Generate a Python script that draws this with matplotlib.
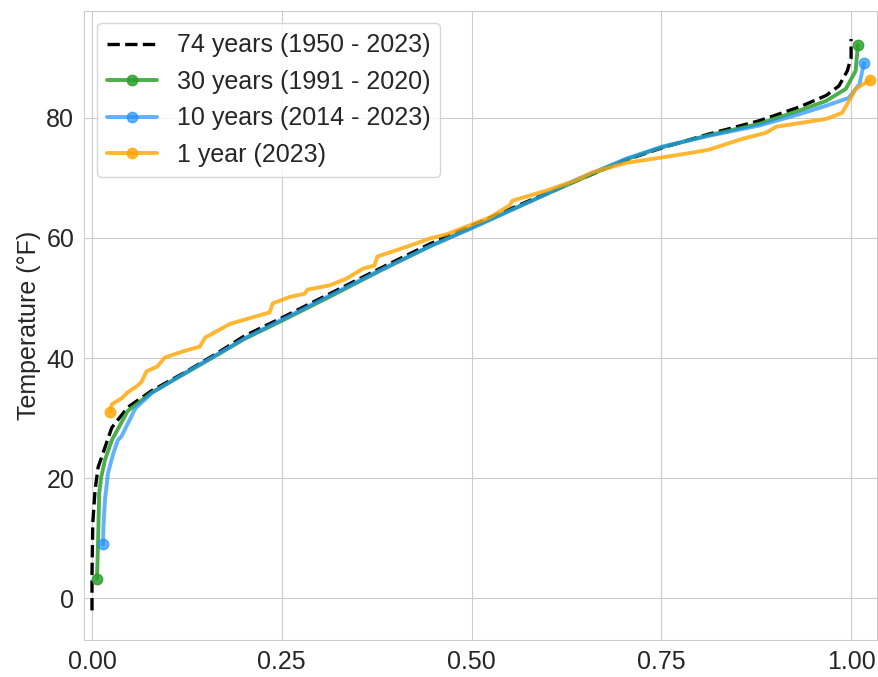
import matplotlib
matplotlib.use("Agg")
import matplotlib.pyplot as plt
import seaborn as sns

# fraction of days (x) vs. temperature (y)
x_74 = [0.0, 0.0, 0.001, 0.004, 0.008, 0.017, 0.026, 0.047, 0.079, 0.122, 0.166, 0.201,
        0.25, 0.313, 0.379, 0.445, 0.5, 0.576, 0.638, 0.704, 0.751, 0.813, 0.879, 0.932,
        0.967, 0.984, 0.995, 1.0, 1.0]
y_74 = [-2.0, 4.0, 12.5, 18.0, 21.8, 25.1, 28.4, 31.8, 34.6, 37.6, 40.9, 43.7,
        46.7, 50.7, 54.9, 59.0, 62.0, 66.2, 69.5, 73.0, 75.0, 77.3, 79.5, 81.8,
        83.7, 85.3, 87.8, 90.0, 93.1]

x_30 = [0.0066, 0.008, 0.0095, 0.012, 0.017, 0.026, 0.047, 0.079, 0.122, 0.166, 0.201,
        0.25, 0.313, 0.379, 0.445, 0.5, 0.576, 0.638, 0.704, 0.751, 0.813, 0.879, 0.932,
        0.967, 0.993, 1.006, 1.009]
y_30 = [3.3, 9.6, 17.5, 20.1, 23.0, 26.3, 31.2, 34.3, 37.4, 40.6, 43.2,
        46.2, 50.2, 54.5, 58.6, 61.7, 66.0, 69.5, 73.1, 75.1, 77.1, 79.0, 81.2,
        82.8, 84.8, 87.8, 92.1]

x_10 = [0.0145, 0.015, 0.017, 0.021, 0.028, 0.034, 0.039, 0.057, 0.079, 0.122, 0.166,
        0.201, 0.25, 0.313, 0.379, 0.445, 0.5, 0.576, 0.638, 0.704, 0.751, 0.813, 0.879,
        0.932, 0.967, 0.997, 1.011, 1.017]
y_10 = [9.0, 11.8, 16.3, 20.8, 24.1, 26.3, 27.0, 31.6, 34.2, 37.5, 40.7,
        43.3, 46.4, 50.4, 54.6, 58.6, 61.6, 66.0, 69.7, 73.2, 75.2, 77.0, 78.7,
        80.6, 82.0, 83.3, 85.6, 89.1]

x_1 = [0.024, 0.026, 0.039, 0.047, 0.059, 0.065, 0.072, 0.086, 0.096, 0.122, 0.142,
       0.149, 0.182, 0.201, 0.234, 0.238, 0.261, 0.280, 0.284, 0.313, 0.335, 0.357,
       0.372, 0.376, 0.414, 0.445, 0.467, 0.524, 0.55, 0.554, 0.599, 0.638, 0.659,
       0.704, 0.751, 0.791, 0.813, 0.857, 0.888, 0.901, 0.967, 0.988, 1.0, 1.006, 1.025]
y_1 = [31.1, 32.3, 33.3, 34.3, 35.3, 36.0, 37.8, 38.6, 40.1, 41.2, 41.9,
       43.4, 45.7, 46.4, 47.6, 49.1, 50.2, 50.7, 51.4, 52.1, 53.2, 54.9,
       55.4, 56.9, 58.5, 59.9, 60.6, 63.4, 65.4, 66.2, 67.9, 69.6, 70.9,
       72.5, 73.4, 74.2, 74.7, 76.5, 77.5, 78.5, 79.8, 80.8, 83.4, 84.8, 86.3]

labels = ["74 years (1950 - 2023)", "30 years (1991 - 2020)",
          "10 years (2014 - 2023)", "1 year (2023)"]

sns.set_style("whitegrid")
plt.rcParams["font.family"] = ["Liberation Sans", "DejaVu Sans"]

fig = plt.figure(figsize=(8.79, 6.77), dpi=100)
ax = fig.add_axes([0.0956, 0.054, 0.902, 0.93])

ax.plot(x_74, y_74, "--", color="black", linewidth=2.4, label=labels[0])
ax.plot(x_30, y_30, color="tab:green", linewidth=2.8, alpha=0.85,
        marker="o", markersize=7.5, markevery=[0, -1], label=labels[1])
ax.plot(x_10, y_10, color="dodgerblue", linewidth=2.8, alpha=0.7,
        marker="o", markersize=7.5, markevery=[0, -1], label=labels[2])
ax.plot(x_1, y_1, color="orange", linewidth=2.8, alpha=0.8,
        marker="o", markersize=7.5, markevery=[0, -1], label=labels[3])

ax.set_xlim(-0.0105, 1.034)
ax.set_ylim(-7.0, 97.8)
ax.set_xticks([0, 0.25, 0.5, 0.75, 1.0])
ax.set_xticklabels(["0.00", "0.25", "0.50", "0.75", "1.00"])
ax.set_yticks([0, 20, 40, 60, 80])
ax.tick_params(labelsize=18)
ax.set_ylabel("Temperature (°F)", fontsize=18)
ax.legend(loc="upper left", fontsize=18, handlelength=2.0)

fig.savefig("out.png", dpi=100)
